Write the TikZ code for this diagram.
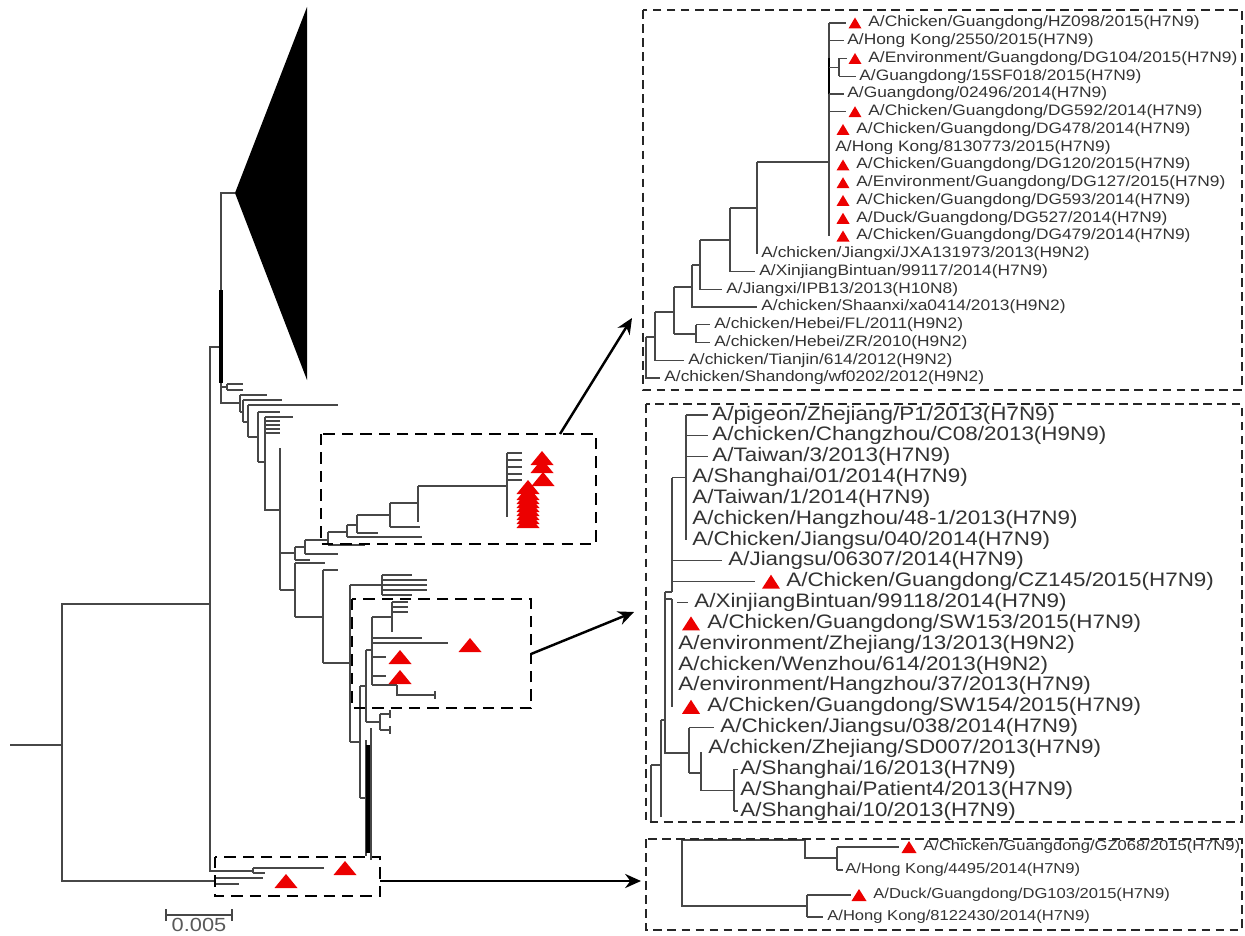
\documentclass[tikz,border=0pt]{standalone}
\usepackage{fontspec}
\newfontfamily\taxfont[FakeStretch=1.15]{Liberation Sans}
\usetikzlibrary{arrows.meta}
\definecolor{tipred}{RGB}{236,0,0}
% red marker for the Guangdong isolates: centre x, centre y, width, height
\newcommand{\redtri}[4]{\fill[tipred] (#1-#3/2,#2+#4/2) -- (#1+#3/2,#2+#4/2) -- (#1,#2-#4/2) -- cycle;}

\begin{document}
\begin{tikzpicture}[x=0.02cm, y=-0.02cm, >=Stealth,
    branch/.style={draw=black!72, line width=0.6pt},
    heavy/.style={draw=black, line width=1.8pt},
    zoombox/.style={draw=black, line width=1.7pt, dash pattern=on 6.5pt off 4pt},
    panel/.style={draw=black!85, line width=0.9pt, dash pattern=on 5pt off 3pt},
    pointer/.style={-{Stealth[length=9pt,width=8pt]}, line width=1.4pt},
    toplbl/.style={anchor=west, inner sep=0pt, text=black!80,
      font=\taxfont\fontsize{8.6}{10}\selectfont},
    midlbl/.style={toplbl, font=\taxfont\fontsize{11.1}{13}\selectfont},
    botlbl/.style={toplbl, font=\taxfont\fontsize{8.2}{10}\selectfont}]
  \clip (0,0) rectangle (1245,936);

  % ---------------- Left: whole tree ----------------
  % Root and deep split
  \draw[branch] (10,745) -- (62,745);
  \draw[branch] (210,604) -- (62,604) -- (62,881) -- (215,881);
  \draw[branch] (221,347) -- (210,347) -- (210,871) -- (253,871);

  % Collapsed clade
  \fill[black] (235,193) -- (307,7) -- (307,380) -- cycle;
  \draw[branch] (235,193) -- (221,193) -- (221,403) -- (240,403);
  \draw[heavy] (221,290) -- (221,383);
  \draw[branch] (221,387) -- (227,387) (227,384) -- (227,390)
    (227,384) -- (243,384) (227,390) -- (243,390);

  % Ladder of early lineages
  \draw[branch] (240,395) -- (240,412) (240,395) -- (267,395) (240,412) -- (243,412);
  \draw[branch] (243,400) -- (243,422) (243,400) -- (282,400) (243,422) -- (248,422);
  \draw[branch] (248,405) -- (248,437) (248,405) -- (338,405) (248,437) -- (258,437);
  \draw[branch] (258,412) -- (258,462) (258,412) -- (280,412) (258,462) -- (265,462);
  \draw[branch] (265,417) -- (265,510) -- (280,510);
  \foreach \ty/\tx in {417/293, 421/280, 425/280, 429/280, 433/280}
    \draw[branch] (265,\ty) -- (\tx,\ty);
  \draw[branch] (280,448) -- (280,590);

  % Clade in box A
  \draw[branch] (280,553) -- (295,553) (295,547) -- (295,560)
    (295,560) -- (310,560) (295,547) -- (305,547)
    (305,540) -- (305,554) (305,554) -- (338,554) (305,540) -- (328,540)
    (328,532) -- (328,545) (328,545) -- (365,545) (328,532) -- (347,532)
    (347,525) -- (347,537) (347,537) -- (422,537) (347,525) -- (357,525)
    (357,515) -- (357,533) (357,533) -- (378,533) (357,515) -- (390,515)
    (390,503) -- (390,527) (390,527) -- (420,527) (390,503) -- (418,503)
    (418,486) -- (418,522) (418,486) -- (507,486)
    (507,453) -- (507,517);
  \foreach \ty in {453,460,467,474,480}
    \draw[branch] (507,\ty) -- (522,\ty);

  % Lower lineages
  \draw[branch] (280,590) -- (295,590) (295,563) -- (295,617)
    (295,563) -- (325,563) (295,617) -- (323,617)
    (323,570) -- (323,663) (323,570) -- (338,570) (323,663) -- (350,663)
    (350,585) -- (350,742) (350,585) -- (382,585) (382,575) -- (382,595)
    (350,742) -- (360,742);
  \foreach \ty/\tx in {575/412, 580/427, 585/427, 590/427, 595/412}
    \draw[branch] (382,\ty) -- (\tx,\ty);

  % Clade in box B
  \draw[branch] (360,686) -- (360,798) (360,686) -- (366,686)
    (366,650) -- (366,722) (366,650) -- (372,650)
    (372,617) -- (372,685) (372,617) -- (392,617) (392,602) -- (392,632)
    (372,638) -- (422,638) (372,643) -- (448,643)
    (372,657) -- (386,657) (372,676) -- (386,676)
    (372,685) -- (397,685) (397,685) -- (397,695) -- (435,695) (435,691) -- (435,699)
    (366,722) -- (380,722) (380,714) -- (380,730)
    (380,714) -- (390,714) (380,730) -- (390,730)
    (390,710) -- (390,718) (390,726) -- (390,734);
  \foreach \ty in {602,607,612}
    \draw[branch] (392,\ty) -- (408,\ty);

  % Dense cluster
  \draw[branch] (360,798) -- (366,798) (366,740) -- (366,856) (371,728) -- (371,860);
  \draw[heavy] (368,745) -- (368,853);

  % Clades in box C
  \draw[branch] (253,868) -- (253,873) (253,868) -- (324,868) (253,873) -- (265,873);
  \draw[heavy, line width=1.2pt] (215,876) -- (215,887);
  \draw[branch] (215,878) -- (263,878) (215,884) -- (239,884);

  % Markers on the left tree
  \foreach \tx/\ty in {542/458, 542/466, 543/479, 528/487}
    {\redtri{\tx}{\ty}{23}{14}}
  \foreach \ty in {493,497,...,521}
    {\redtri{528}{\ty}{23}{14}}
  \foreach \tx/\ty in {470/645, 400/657, 400/677, 345/868, 286/881}
    {\redtri{\tx}{\ty}{23}{14}}

  % Zoom boxes
  \draw[zoombox] (321,434) rectangle (596,544);
  \draw[zoombox] (352,599) rectangle (531,708);
  \draw[zoombox] (215,857) rectangle (380,896);

  % Scale bar
  \draw[branch, line width=0.8pt] (166,915) -- (232,915)
    (166,909) -- (166,921) (232,909) -- (232,921);
  \node[text=black!65, font=\taxfont\fontsize{10.8}{12}\selectfont] (scalelbl) at (199,925) {0.005};

  % ---------------- Right: top panel ----------------
  \draw[branch] (757,162) -- (829,162) (829,23) -- (829,236);
  \draw[heavy, line width=1.1pt] (829,58) -- (829,94);
  \draw[branch] (829,23) -- (846,23) (829,40.75) -- (844,40.75)
    (829,67.4) -- (839,67.4) (839,58.5) -- (839,76.25)
    (839,58.5) -- (847,58.5) (839,76.25) -- (856,76.25)
    (829,94) -- (844,94) (829,111.75) -- (846,111.75);
  \draw[branch] (757,162) -- (757,253.75)
    (730,208) -- (757,208) (730,208) -- (730,271.5) -- (755,271.5)
    (700,240) -- (730,240) (700,240) -- (700,289.25) -- (722,289.25)
    (692,265) -- (700,265) (692,265) -- (692,307) -- (757,307)
    (674,287) -- (692,287) (674,287) -- (674,334) (674,334) -- (696,334)
    (696,324.75) -- (696,342.5) (696,324.75) -- (710,324.75) (696,342.5) -- (710,342.5)
    (655,312) -- (674,312) (655,312) -- (655,360.25) -- (684,360.25)
    (646,337) -- (655,337) (646,337) -- (646,378) -- (660,378);

  \node[toplbl] (hz098) at (868,23) {A/Chicken/Guangdong/HZ098/2015(H7N9)};
  \node[toplbl] (hk2550) at (847,40.75) {A/Hong Kong/2550/2015(H7N9)};
  \node[toplbl] (dg104) at (868,58.5) {A/Environment/Guangdong/DG104/2015(H7N9)};
  \node[toplbl] (sf018) at (859,76.25) {A/Guangdong/15SF018/2015(H7N9)};
  \node[toplbl] (gd02496) at (847,94) {A/Guangdong/02496/2014(H7N9)};
  \node[toplbl] (dg592) at (868,111.75) {A/Chicken/Guangdong/DG592/2014(H7N9)};
  \node[toplbl] (dg478) at (856,129.5) {A/Chicken/Guangdong/DG478/2014(H7N9)};
  \node[toplbl] (hk8130773) at (835,147.25) {A/Hong Kong/8130773/2015(H7N9)};
  \node[toplbl] (dg120) at (856,165) {A/Chicken/Guangdong/DG120/2015(H7N9)};
  \node[toplbl] (dg127) at (856,182.75) {A/Environment/Guangdong/DG127/2015(H7N9)};
  \node[toplbl] (dg593) at (856,200.5) {A/Chicken/Guangdong/DG593/2014(H7N9)};
  \node[toplbl] (dg527) at (856,218.25) {A/Duck/Guangdong/DG527/2014(H7N9)};
  \node[toplbl] (dg479) at (856,236) {A/Chicken/Guangdong/DG479/2014(H7N9)};
  \node[toplbl] (jxa) at (761,253.75) {A/chicken/Jiangxi/JXA131973/2013(H9N2)};
  \node[toplbl] (xj99117) at (759,271.5) {A/XinjiangBintuan/99117/2014(H7N9)};
  \node[toplbl] (ipb13) at (726,289.25) {A/Jiangxi/IPB13/2013(H10N8)};
  \node[toplbl] (xa0414) at (761,307) {A/chicken/Shaanxi/xa0414/2013(H9N2)};
  \node[toplbl] (hbfl) at (714,324.75) {A/chicken/Hebei/FL/2011(H9N2)};
  \node[toplbl] (hbzr) at (714,342.5) {A/chicken/Hebei/ZR/2010(H9N2)};
  \node[toplbl] (tj614) at (688,360.25) {A/chicken/Tianjin/614/2012(H9N2)};
  \node[toplbl] (sdwf) at (664,378) {A/chicken/Shandong/wf0202/2012(H9N2)};
  \foreach \tx/\ty in {855/23, 855/58.5, 855/111.75, 843/129.5, 843/165,
      843/182.75, 843/200.5, 843/218.25, 843/236}
    {\redtri{\tx}{\ty}{13}{11}}

  % ---------------- Right: middle panel ----------------
  \draw[branch] (686,415) -- (686,540) (686,415) -- (708,415)
    (686,435.8) -- (708,435.8) (686,456.7) -- (708,456.7);
  \draw[branch] (672,477.5) -- (686,477.5) (672,477.5) -- (672,592)
    (672,560.9) -- (722,560.9) (672,581.7) -- (755,581.7);
  \draw[branch] (665,592) -- (672,592) (665,592) -- (665,753) -- (689,753)
    (665,599) -- (672,599) (672,599) -- (672,706.8) (677,602.6) -- (688,602.6)
    (689,727.6) -- (689,773) (689,727.6) -- (714,727.6)
    (689,773) -- (701,773)
    (701,752) -- (701,790.1) -- (734,790.1) (734,769.3) -- (734,811)
    (734,769.3) -- (738,769.3) (734,811) -- (738,811);
  \draw[branch] (661,720) -- (665,720) (661,720) -- (661,817)
    (651,765) -- (661,765) (651,765) -- (651,822);

  \node[midlbl] (pigeon) at (712,415) {A/pigeon/Zhejiang/P1/2013(H7N9)};
  \node[midlbl] (cz08) at (712,435.8) {A/chicken/Changzhou/C08/2013(H9N9)};
  \node[midlbl] (tw3) at (712,456.7) {A/Taiwan/3/2013(H7N9)};
  \node[midlbl] (sh01) at (692,477.5) {A/Shanghai/01/2014(H7N9)};
  \node[midlbl] (tw1) at (692,498.4) {A/Taiwan/1/2014(H7N9)};
  \node[midlbl] (hz481) at (692,519.2) {A/chicken/Hangzhou/48-1/2013(H7N9)};
  \node[midlbl] (js040) at (692,540) {A/Chicken/Jiangsu/040/2014(H7N9)};
  \node[midlbl] (js06307) at (728,560.9) {A/Jiangsu/06307/2014(H7N9)};
  \node[midlbl] (cz145) at (786,581.7) {A/Chicken/Guangdong/CZ145/2015(H7N9)};
  \node[midlbl] (xj99118) at (694,602.6) {A/XinjiangBintuan/99118/2014(H7N9)};
  \node[midlbl] (sw153) at (707,623.4) {A/Chicken/Guangdong/SW153/2015(H7N9)};
  \node[midlbl] (zj13) at (678,644.2) {A/environment/Zhejiang/13/2013(H9N2)};
  \node[midlbl] (wz614) at (678,665.1) {A/chicken/Wenzhou/614/2013(H9N2)};
  \node[midlbl] (hz37) at (678,685.9) {A/environment/Hangzhou/37/2013(H7N9)};
  \node[midlbl] (sw154) at (707,706.8) {A/Chicken/Guangdong/SW154/2015(H7N9)};
  \node[midlbl] (js038) at (720,727.6) {A/Chicken/Jiangsu/038/2014(H7N9)};
  \node[midlbl] (sd007) at (708,748.4) {A/chicken/Zhejiang/SD007/2013(H7N9)};
  \node[midlbl] (sh16) at (740,769.3) {A/Shanghai/16/2013(H7N9)};
  \node[midlbl] (shp4) at (740,790.1) {A/Shanghai/Patient4/2013(H7N9)};
  \node[midlbl] (sh10) at (740,811) {A/Shanghai/10/2013(H7N9)};
  \foreach \tx/\ty in {771/581.7, 691/623.4, 691/706.8}
    {\redtri{\tx}{\ty}{18}{14}}

  % ---------------- Right: bottom panel ----------------
  \draw[branch] (682,840) -- (805,840) (805,840) -- (805,858) -- (837,858)
    (837,847) -- (837,870) (837,847) -- (899,847) (837,870) -- (843,870)
    (682,840) -- (682,906) -- (807,906) (807,895) -- (807,917)
    (807,895) -- (851,895) (807,917) -- (823,917);
  \node[botlbl] (gz068) at (923,847) {A/Chicken/Guangdong/GZ068/2015(H7N9)};
  \node[botlbl] (hk4495) at (845,870) {A/Hong Kong/4495/2014(H7N9)};
  \node[botlbl] (dg103) at (873,895) {A/Duck/Guangdong/DG103/2015(H7N9)};
  \node[botlbl] (hk8122430) at (827,917) {A/Hong Kong/8122430/2014(H7N9)};
  \redtri{909}{847}{15}{12}
  \redtri{859}{895}{15}{12}

  % Panel frames
  \draw[panel] (643,10) rectangle (1242,390);
  \draw[panel] (646,404) rectangle (1242,822);
  \draw[panel] (646,839) rectangle (1242,930);

  % Pointers from zoom boxes to panels
  \coordinate (fromA) at (560,434);
  \coordinate (toA) at (632,318);
  \coordinate (fromB) at (531,654);
  \coordinate (toB) at (634,612);
  \coordinate (fromC) at (380,881);
  \coordinate (toC) at (641,881);
  \draw[pointer] (fromA) -- (toA);
  \draw[pointer] (fromB) -- (toB);
  \draw[pointer] (fromC) -- (toC);
\end{tikzpicture}
\end{document}
